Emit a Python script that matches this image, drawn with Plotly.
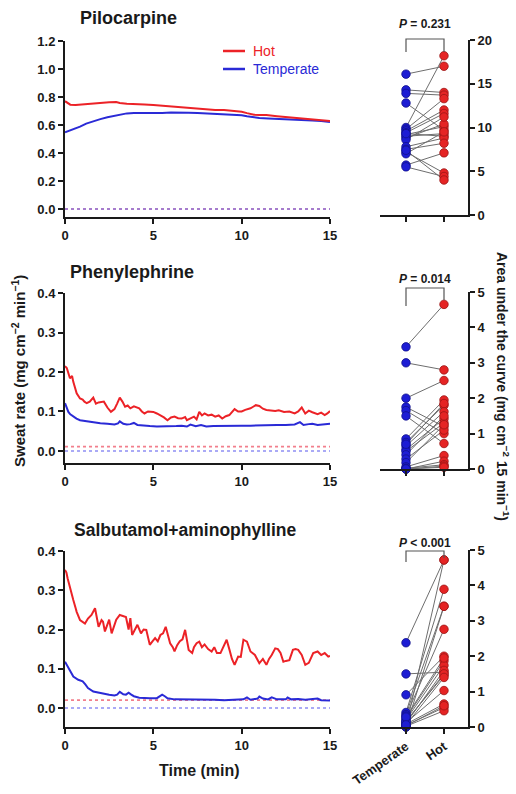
import plotly.graph_objects as go

# ---------------- data ----------------
# Pilocarpine time courses
pilo_hot_t = [0, 0.15, 0.3, 0.6, 1.0, 1.5, 2.0, 2.5, 2.9, 3.1, 3.5, 4.0, 4.5, 5.0, 5.5, 6.0, 6.5, 7.0, 7.5, 8.0,
              8.5, 9.0, 9.5, 10.0, 10.3, 10.7, 11.0, 11.4, 12.0, 12.5, 13.0, 13.5, 14.0, 14.5, 15.0]
pilo_hot_v = [0.77, 0.755, 0.745, 0.743, 0.748, 0.752, 0.758, 0.762, 0.764, 0.757, 0.752, 0.751, 0.746, 0.742,
              0.737, 0.731, 0.728, 0.722, 0.716, 0.711, 0.708, 0.707, 0.702, 0.695, 0.685, 0.673, 0.672, 0.671,
              0.663, 0.658, 0.652, 0.646, 0.641, 0.635, 0.628]
pilo_tmp_t = [0, 0.4, 0.85, 1.2, 1.6, 2.0, 2.4, 2.8, 3.1, 3.5, 3.9, 4.5, 5.0, 5.5, 6.0, 6.5, 7.0, 7.5, 8.0, 8.5,
              9.0, 9.5, 10.0, 10.3, 10.7, 11.0, 11.5, 12.0, 12.5, 13.0, 13.5, 14.0, 14.5, 15.0]
pilo_tmp_v = [0.548, 0.565, 0.588, 0.61, 0.628, 0.642, 0.655, 0.667, 0.676, 0.683, 0.686, 0.685, 0.684, 0.686,
              0.689, 0.69, 0.688, 0.685, 0.682, 0.68, 0.677, 0.674, 0.67, 0.662, 0.654, 0.65, 0.647, 0.645,
              0.642, 0.639, 0.635, 0.632, 0.628, 0.622]

# Phenylephrine time courses
phen_hot_t = [0, 0.1, 0.28, 0.4, 0.47, 0.6, 0.66, 0.85, 1.0, 1.1, 1.23, 1.4, 1.6, 1.75, 1.9, 2.2, 2.4, 2.6, 2.8,
              2.95, 3.1, 3.25, 3.4, 3.55, 3.7, 3.9, 4.05, 4.2, 4.35, 4.5, 4.7, 5.0, 5.2, 5.4, 5.6, 5.8, 6.0, 6.2,
              6.4, 6.6, 6.8, 6.9, 7.1, 7.3, 7.45, 7.6, 7.75, 7.9, 8.1, 8.3, 8.5, 8.7, 8.9, 9.1, 9.3, 9.45, 9.6,
              9.8, 10.0, 10.2, 10.5, 10.65, 10.8, 11.0, 11.2, 11.4, 11.6, 11.9, 12.1, 12.4, 12.7, 13.0, 13.2,
              13.4, 13.6, 13.8, 14.0, 14.3, 14.5, 14.7, 14.85, 15.0]
phen_hot_v = [0.215, 0.21, 0.184, 0.19, 0.175, 0.15, 0.146, 0.133, 0.13, 0.125, 0.121, 0.125, 0.135, 0.12, 0.123,
              0.125, 0.11, 0.099, 0.106, 0.12, 0.135, 0.125, 0.112, 0.115, 0.108, 0.113, 0.11, 0.108, 0.1, 0.095,
              0.1, 0.099, 0.095, 0.091, 0.085, 0.078, 0.085, 0.087, 0.083, 0.082, 0.086, 0.078, 0.082, 0.087,
              0.08, 0.099, 0.09, 0.095, 0.09, 0.092, 0.087, 0.09, 0.082, 0.088, 0.091, 0.098, 0.106, 0.1, 0.1,
              0.104, 0.108, 0.112, 0.116, 0.114, 0.107, 0.104, 0.103, 0.101, 0.103, 0.099, 0.1, 0.095, 0.1,
              0.11, 0.095, 0.102, 0.098, 0.093, 0.097, 0.091, 0.095, 0.101]
phen_tmp_t = [0, 0.1, 0.19, 0.3, 0.47, 0.65, 0.85, 1.2, 1.6, 2.0, 2.4, 2.8, 3.0, 3.1, 3.3, 3.5, 3.7, 3.9, 4.1,
              4.4, 4.8, 5.2, 5.6, 6.0, 6.3, 6.6, 6.9, 7.1, 7.4, 7.7, 8.0, 8.4, 9.0, 9.5, 10.0, 10.5, 11.0, 11.5,
              12.0, 12.5, 13.0, 13.3, 13.5, 13.8, 14.0, 14.3, 14.6, 15.0]
phen_tmp_v = [0.121, 0.11, 0.099, 0.093, 0.087, 0.082, 0.078, 0.075, 0.073, 0.07, 0.069, 0.067, 0.07, 0.075,
              0.069, 0.067, 0.068, 0.071, 0.066, 0.064, 0.063, 0.062, 0.062, 0.062, 0.063, 0.064, 0.062, 0.067,
              0.063, 0.066, 0.062, 0.063, 0.064, 0.064, 0.064, 0.064, 0.065, 0.065, 0.066, 0.066, 0.067, 0.073,
              0.066, 0.068, 0.069, 0.066, 0.067, 0.069]

# Salbutamol + aminophylline time courses
salb_hot_t = [0, 0.08, 0.15, 0.28, 0.4, 0.47, 0.6, 0.66, 0.85, 1.0, 1.13, 1.3, 1.5, 1.7, 1.8, 1.9, 2.07, 2.15,
              2.26, 2.4, 2.5, 2.64, 2.8, 2.9, 3.1, 3.3, 3.45, 3.6, 3.7, 3.8, 3.95, 4.1, 4.3, 4.45, 4.6, 4.8, 4.95,
              5.1, 5.25, 5.4, 5.55, 5.7, 5.95, 6.1, 6.2, 6.35, 6.5, 6.65, 6.8, 6.9, 7.0, 7.2, 7.3, 7.45, 7.6,
              7.75, 7.9, 8.1, 8.3, 8.45, 8.6, 8.8, 9.0, 9.15, 9.3, 9.45, 9.6, 9.8, 9.95, 10.1, 10.3, 10.5, 10.75,
              10.9, 11.0, 11.2, 11.4, 11.55, 11.7, 11.9, 12.05, 12.2, 12.36, 12.5, 12.7, 12.9, 13.05, 13.2,
              13.4, 13.6, 13.8, 14.05, 14.3, 14.5, 14.7, 14.9, 15.0]
salb_hot_v = [0.352, 0.345, 0.33, 0.305, 0.285, 0.275, 0.255, 0.245, 0.224, 0.218, 0.215, 0.228, 0.237, 0.254,
              0.225, 0.207, 0.224, 0.22, 0.195, 0.215, 0.225, 0.19, 0.215, 0.225, 0.237, 0.233, 0.232, 0.2,
              0.229, 0.186, 0.2, 0.212, 0.19, 0.2, 0.199, 0.161, 0.17, 0.178, 0.17, 0.186, 0.19, 0.207, 0.165,
              0.155, 0.144, 0.16, 0.17, 0.175, 0.199, 0.17, 0.148, 0.14, 0.155, 0.165, 0.169, 0.155, 0.162,
              0.15, 0.144, 0.155, 0.14, 0.14, 0.161, 0.174, 0.15, 0.125, 0.11, 0.131, 0.13, 0.174, 0.169,
              0.144, 0.135, 0.12, 0.114, 0.125, 0.11, 0.125, 0.135, 0.152, 0.15, 0.14, 0.118, 0.12, 0.122,
              0.148, 0.15, 0.148, 0.135, 0.11, 0.115, 0.14, 0.144, 0.135, 0.14, 0.131, 0.133]
salb_tmp_t = [0, 0.19, 0.35, 0.47, 0.75, 1.0, 1.15, 1.3, 1.6, 1.9, 2.2, 2.5, 2.8, 2.95, 3.1, 3.3, 3.45, 3.6,
              3.75, 3.9, 4.2, 4.5, 4.8, 5.2, 5.4, 5.5, 5.65, 5.8, 6.2, 6.8, 7.5, 8.0, 8.5, 9.0, 9.5, 9.9, 10.1,
              10.3, 10.5, 10.9, 11.0, 11.2, 11.5, 11.7, 12.0, 12.5, 12.6, 12.8, 13.2, 13.6, 14.0, 14.3, 14.5,
              14.8, 15.0]
salb_tmp_v = [0.118, 0.101, 0.088, 0.08, 0.072, 0.068, 0.06, 0.051, 0.042, 0.039, 0.036, 0.034, 0.032, 0.034,
              0.041, 0.035, 0.034, 0.039, 0.034, 0.03, 0.026, 0.025, 0.025, 0.025, 0.03, 0.034, 0.03, 0.025,
              0.022, 0.022, 0.021, 0.021, 0.021, 0.02, 0.021, 0.022, 0.022, 0.027, 0.021, 0.024, 0.029, 0.024,
              0.022, 0.027, 0.022, 0.022, 0.027, 0.022, 0.023, 0.021, 0.022, 0.024, 0.02, 0.019, 0.019]

# baseline (dotted) levels: pilocarpine, phenylephrine, salbutamol
baseline_hot = [0.0, 0.011, 0.02]
baseline_tmp = [0.0, 0.0, 0.0]

# Area under the curve, paired individuals (Temperate, Hot)
auc_pilo_tmp = [16.1, 14.3, 13.9, 12.8, 10.0, 9.8, 9.6, 9.4, 9.2, 9.0, 8.8, 8.6, 9.3, 7.8, 7.5, 7.2, 7.0, 5.7, 5.5, 7.4]
auc_pilo_hot = [17.0, 14.0, 13.7, 9.7, 18.2, 13.3, 12.0, 11.6, 10.1, 9.3, 10.4, 11.2, 9.0, 8.8, 8.2, 4.8, 9.5, 7.1, 4.4, 4.0]
auc_phen_tmp = [3.45, 3.0, 2.0, 1.75, 1.65, 1.5, 0.85, 0.75, 0.65, 0.55, 0.5, 0.4, 0.28, 0.18, 0.06, 0.0, 0.02, 0.0, 0.7, 0.0]
auc_phen_hot = [4.65, 2.8, 2.5, 1.2, 1.0, 0.72, 1.95, 1.8, 1.62, 1.42, 1.3, 1.5, 1.1, 1.25, 0.38, 0.22, 0.12, 0.08, 1.85, 0.05]
auc_salb_tmp = [2.38, 1.5, 0.91, 0.41, 0.35, 0.31, 0.25, 0.2, 0.17, 0.12, 0.08, 0.05, 0.02, 0.0, 0.0, 0.1, 0.15, 0.28, 0.03, 0.06]
auc_salb_hot = [4.72, 1.55, 2.0, 3.89, 3.41, 2.76, 1.87, 1.74, 1.46, 1.03, 0.65, 0.55, 0.46, 4.72, 3.41, 1.6, 1.5, 1.95, 0.6, 1.4]

titles = ["Pilocarpine", "Phenylephrine", "Salbutamol+aminophylline"]
p_texts = ["<b><i>P</i> = 0.231</b>", "<b><i>P</i> = 0.014</b>", "<b><i>P</i> < 0.001</b>"]
categories = ["Temperate", "Hot"]
x_ticks = [0, 5, 10, 15]

# ---------------- styling ----------------
W, H = 516, 794
FONT = "Arial, Liberation Sans, sans-serif"
RED = "#ec2227"
BLUE = "#2a2ad6"
AX = "#1a1a1a"


def px(x):
    return x / W


def py(y):
    return 1 - y / H


fig = go.Figure()

left_x_dom = [px(65), px(330)]
left_y_doms = [[py(217), py(41)], [py(463), py(293)], [py(727), py(551)]]
left_y_rngs = [[-0.0571, 1.2], [-0.0304, 0.4], [-0.0484, 0.4]]
left_y_dticks = [0.2, 0.1, 0.1]

right_x_dom = [px(380), px(468)]
right_x_rng = [-0.684, 1.632]
right_y_doms = [[py(215), py(40)], [py(469), py(292)], [py(727), py(550)]]
right_y_rngs = [[0, 20], [0, 5], [0, 5]]
right_y_dticks = [5, 1, 1]

series = [
    (pilo_hot_t, pilo_hot_v, pilo_tmp_t, pilo_tmp_v),
    (phen_hot_t, phen_hot_v, phen_tmp_t, phen_tmp_v),
    (salb_hot_t, salb_hot_v, salb_tmp_t, salb_tmp_v),
]
aucs = [
    (auc_pilo_tmp, auc_pilo_hot),
    (auc_phen_tmp, auc_phen_hot),
    (auc_salb_tmp, auc_salb_hot),
]

tickfont = dict(family=FONT, size=13, color=AX, weight="bold")

for i in range(3):
    lx = "x%d" % (2 * i + 1)
    ly = "y%d" % (2 * i + 1)
    rx = "x%d" % (2 * i + 2)
    ry = "y%d" % (2 * i + 2)
    ht, hv, tt, tv = series[i]
    # dotted baselines
    fig.add_trace(go.Scatter(x=[x_ticks[0], x_ticks[-1]], y=[baseline_hot[i]] * 2, mode="lines",
                             line=dict(color="#f06070", width=1.6, dash="dot"), opacity=0.8,
                             xaxis=lx, yaxis=ly, showlegend=False))
    fig.add_trace(go.Scatter(x=[x_ticks[0], x_ticks[-1]], y=[baseline_tmp[i]] * 2, mode="lines",
                             line=dict(color="#6060f0", width=1.6, dash="dot"), opacity=0.7,
                             xaxis=lx, yaxis=ly, showlegend=False))
    fig.add_trace(go.Scatter(x=tt, y=tv, mode="lines", line=dict(color=BLUE, width=2),
                             xaxis=lx, yaxis=ly, showlegend=False))
    fig.add_trace(go.Scatter(x=ht, y=hv, mode="lines", line=dict(color=RED, width=2),
                             xaxis=lx, yaxis=ly, showlegend=False))

    # paired dots
    tmp, hot = aucs[i]
    lxs, lys = [], []
    for a, b in zip(tmp, hot):
        lxs += [0, 1, None]
        lys += [a, b, None]
    fig.add_trace(go.Scatter(x=lxs, y=lys, mode="lines", line=dict(color="#6e6e6e", width=1),
                             xaxis=rx, yaxis=ry, showlegend=False))
    fig.add_trace(go.Scatter(x=[0] * len(tmp), y=tmp, mode="markers", cliponaxis=False,
                             marker=dict(color="#1d1dd4", size=8.5, line=dict(color="#12128a", width=0.8)),
                             xaxis=rx, yaxis=ry, showlegend=False))
    fig.add_trace(go.Scatter(x=[1] * len(hot), y=hot, mode="markers", cliponaxis=False,
                             marker=dict(color="#e52424", size=8.5, line=dict(color="#9a1515", width=0.8)),
                             xaxis=rx, yaxis=ry, showlegend=False))

    # axes
    fig.layout["xaxis%d" % (2 * i + 1)] = dict(
        domain=left_x_dom, range=[0, 15], anchor=ly, tickvals=x_ticks, ticks="outside", ticklen=5,
        tickwidth=2, tickcolor=AX, showline=True, linewidth=2, linecolor=AX, showgrid=False,
        zeroline=False, tickfont=tickfont, automargin=False)
    fig.layout["yaxis%d" % (2 * i + 1)] = dict(
        domain=left_y_doms[i], range=left_y_rngs[i], anchor=lx, tick0=0, dtick=left_y_dticks[i],
        tickformat=".1f", ticks="outside", ticklen=5, tickwidth=2, tickcolor=AX, showline=True,
        linewidth=2, linecolor=AX, showgrid=False, zeroline=False, tickfont=tickfont, automargin=False)
    xa = dict(
        domain=right_x_dom, range=right_x_rng, anchor=ry, tickvals=[0, 1], ticks="outside", ticklen=5,
        tickwidth=2, tickcolor=AX, showline=True, linewidth=2, linecolor=AX, showgrid=False,
        zeroline=False, automargin=False, tickangle=-35,
        tickfont=dict(family=FONT, size=13, color=AX, weight="bold"))
    if i == 2:
        xa["ticktext"] = categories
    else:
        xa["showticklabels"] = False
    fig.layout["xaxis%d" % (2 * i + 2)] = xa
    fig.layout["yaxis%d" % (2 * i + 2)] = dict(
        domain=right_y_doms[i], range=right_y_rngs[i], anchor=rx, side="right", tick0=0,
        dtick=right_y_dticks[i], ticks="outside", ticklen=5, tickwidth=2, tickcolor=AX, showline=True,
        linewidth=2, linecolor=AX, showgrid=False, zeroline=False, tickfont=tickfont, automargin=False)

annotations = []
shapes = []

# panel titles
title_pos = [(78, 18), (68, 272), (72, 530)]
title_sizes = [18, 18, 17.5]
for t, (x0, y0), s in zip(titles, title_pos, title_sizes):
    annotations.append(dict(text="<b>%s</b>" % t, x=px(x0), y=py(y0), xref="paper", yref="paper",
                            xanchor="left", yanchor="middle", showarrow=False,
                            font=dict(family=FONT, size=s, color=AX)))

# P-value brackets
bracket = [(24, 39, 52, 52), (279, 288, 306, 300), (543, 551, 562, 558)]
xl, xr = 406, 444
for txt, (ty, top, tipl, tipr) in zip(p_texts, bracket):
    annotations.append(dict(text=txt, x=px((xl + xr) / 2), y=py(ty), xref="paper", yref="paper",
                            xanchor="center", yanchor="middle", showarrow=False,
                            font=dict(family=FONT, size=12, color=AX)))
    shapes.append(dict(type="path", xref="paper", yref="paper",
                       path="M %f %f L %f %f L %f %f L %f %f" % (px(xl), py(tipl), px(xl), py(top),
                                                                  px(xr), py(top), px(xr), py(tipr)),
                       line=dict(color="#555555", width=1.2)))

# legend
for name, col, yy in [("Hot", RED, 51), ("Temperate", BLUE, 69)]:
    shapes.append(dict(type="line", xref="paper", yref="paper", x0=px(223), x1=px(245), y0=py(yy), y1=py(yy),
                       line=dict(color=col, width=2.5)))
    annotations.append(dict(text=name, x=px(251), y=py(yy), xref="paper", yref="paper", xanchor="left",
                            yanchor="middle", showarrow=False, font=dict(family=FONT, size=14, color=col)))

# axis titles
annotations.append(dict(text="<b>Sweat rate (mg cm<sup>\u22122</sup> min<sup>\u22121</sup>)</b>",
                        x=px(18), y=py(371), xref="paper", yref="paper", textangle=-90, showarrow=False,
                        xanchor="center", yanchor="middle", font=dict(family=FONT, size=15, color=AX)))
annotations.append(dict(text="<b>Area under the curve (mg cm<sup>\u22122</sup> 15 min<sup>\u22121</sup>)</b>",
                        x=px(503), y=py(386), xref="paper", yref="paper", textangle=90, showarrow=False,
                        xanchor="center", yanchor="middle", font=dict(family=FONT, size=14, color=AX)))
annotations.append(dict(text="<b>Time (min)</b>", x=px(199), y=py(770), xref="paper", yref="paper",
                        showarrow=False, xanchor="center", yanchor="middle",
                        font=dict(family=FONT, size=16, color=AX)))

fig.update_layout(width=W, height=H, margin=dict(l=0, r=0, t=0, b=0), paper_bgcolor="white",
                  plot_bgcolor="white", showlegend=False, annotations=annotations, shapes=shapes,
                  font=dict(family=FONT))

fig.write_html("out.html", config={"displayModeBar": False},
               post_script="document.body.style.margin='0';document.body.style.overflow='hidden';")
